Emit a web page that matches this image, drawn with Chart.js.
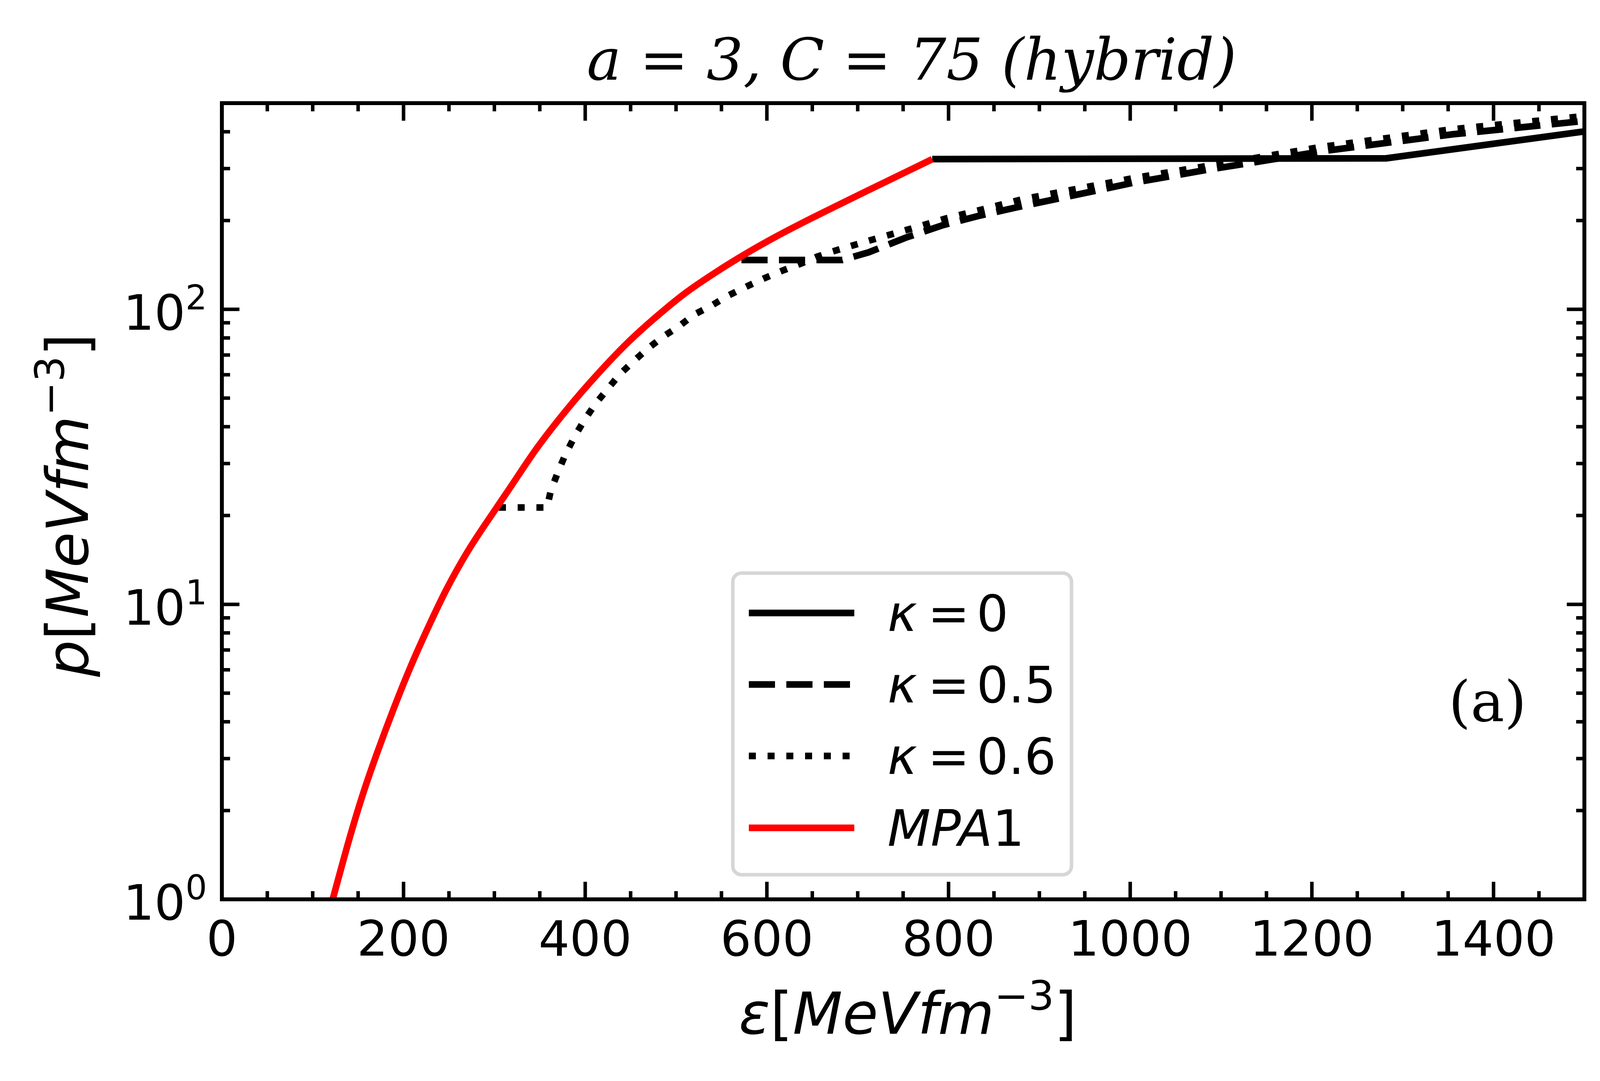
<!DOCTYPE html>
<html>
<head>
<meta charset="utf-8">
<script src="https://cdn.jsdelivr.net/npm/chart.js@4.4.0/dist/chart.umd.min.js"></script>
<style>
  html, body { margin: 0; padding: 0; background: #fff; }
</style>
</head>
<body>
<canvas id="eos" width="4146" height="2767" style="width:4146px;height:2767px"></canvas>
<script>
// energy density (MeV fm^-3) and pressure (MeV fm^-3)
const epsMPA1 = [122, 141, 156, 170, 190, 208, 228, 247, 270, 303, 314, 347, 380, 413, 446, 479, 511, 544, 577, 608, 634, 710, 782];
const pMPA1 = [1.0, 1.63, 2.31, 3.08, 4.50, 6.17, 8.47, 11.2, 15.0, 21.4, 24.0, 33.9, 45.8, 60.0, 76.7, 94.8, 114.0, 133.7, 154.5, 175.0, 192.8, 251.8, 322.8];

const epsK0 = [782, 1282, 1500];
const pK0 = [323, 325, 401];

const epsK05 = [572, 683, 712, 753, 794, 835, 876, 1002, 1087, 1128, 1213, 1355, 1500];
const pK05 = [147, 147, 156, 175, 193, 208, 222, 268, 298, 312, 344, 392, 435];

const epsK06 = [305, 358, 362, 370, 378, 388, 399, 411, 424, 438, 453, 469, 486, 503, 520, 539, 557, 576, 596, 617, 637, 655, 672, 714, 757, 799, 837, 881, 1005, 1095, 1210, 1355, 1500];
const pK06 = [21.3, 21.3, 24.2, 28.1, 32.1, 36.9, 42.1, 47.7, 53.4, 60.2, 66.6, 73.7, 80.9, 87.5, 96.0, 102.9, 111.2, 118.8, 127.0, 135.2, 142.7, 150.7, 157, 171.5, 187, 204, 218, 236, 279, 310, 355, 408, 452];

const xTickVals = [0, 200, 400, 600, 800, 1000, 1200, 1400];
const yTickExps = [0, 1, 2];
const legendKappa = ["0", "0.5", "0.6"];

const LW = 17;
const SANS = '"DejaVu Sans"';
const SERIF = '"DejaVu Serif"';

function pts(xs, ys) {
  return xs.map((x, i) => ({ x: x, y: ys[i] }));
}

// text with italic / superscript pieces, like matplotlib mathtext
function drawRich(ctx, parts, x, y, size) {
  const fontOf = p => (p.it ? "italic " : "") + Math.round(p.sup ? size * 0.7 : size) + "px " + SANS;
  let total = 0;
  parts.forEach(p => { ctx.font = fontOf(p); total += ctx.measureText(p.t).width; });
  let cx = x - total / 2;
  ctx.textAlign = "left";
  ctx.textBaseline = "alphabetic";
  parts.forEach(p => {
    ctx.font = fontOf(p);
    ctx.fillText(p.t, cx, p.sup ? y - size * 0.41 : y);
    cx += ctx.measureText(p.t).width;
  });
}

const framePlugin = {
  id: "frame",
  beforeDraw(chart) {
    const ctx = chart.ctx;
    ctx.save();
    ctx.fillStyle = "#fff";
    ctx.fillRect(0, 0, chart.width, chart.height);
    ctx.restore();
  },
  afterDatasetsDraw(chart) {
    const ctx = chart.ctx;
    const { left, right, top, bottom } = chart.chartArea;
    const xs = chart.scales.x, ys = chart.scales.y;
    ctx.save();
    ctx.strokeStyle = "#000";
    ctx.fillStyle = "#000";

    // inward ticks on all four sides
    ctx.lineWidth = 9;
    ctx.beginPath();
    for (let v = 0; v <= 1500; v += 50) {
      const px = xs.getPixelForValue(v);
      const len = v % 200 === 0 ? 45 : 21;
      ctx.moveTo(px, bottom); ctx.lineTo(px, bottom - len);
      ctx.moveTo(px, top); ctx.lineTo(px, top + len);
    }
    for (let e = 0; e <= 2; e++) {
      for (let m = 1; m <= 9; m++) {
        const v = m * Math.pow(10, e);
        if (v >= ys.max) break;
        const py = ys.getPixelForValue(v);
        const len = m === 1 ? 45 : 21;
        ctx.moveTo(left, py); ctx.lineTo(left + len, py);
        ctx.moveTo(right, py); ctx.lineTo(right - len, py);
      }
    }
    ctx.stroke();

    ctx.lineWidth = 10;
    ctx.strokeRect(left, top, right - left, bottom - top);

    // x tick labels
    ctx.font = "125px " + SANS;
    ctx.textAlign = "center";
    ctx.textBaseline = "alphabetic";
    xTickVals.forEach(v => ctx.fillText(String(v), xs.getPixelForValue(v), bottom + 144));

    // y tick labels 10^n
    yTickExps.forEach(e => {
      const py = ys.getPixelForValue(Math.pow(10, e));
      ctx.font = "125px " + SANS;
      const wb = ctx.measureText("10").width;
      ctx.font = "87px " + SANS;
      const we = ctx.measureText(String(e)).width;
      const xr = left - 38;
      ctx.textAlign = "left";
      ctx.font = "125px " + SANS;
      ctx.fillText("10", xr - we - wb, py + 52);
      ctx.font = "87px " + SANS;
      ctx.fillText(String(e), xr - we, py);
    });

    // axis titles
    const unit = [
      { t: "[" }, { t: "MeVfm", it: true }, { t: "\u22123", sup: true }, { t: "]" }
    ];
    drawRich(ctx, [{ t: "\u03b5", it: true }].concat(unit), (left + right) / 2 + 12, bottom + 344, 148);
    ctx.save();
    ctx.translate(225, (top + bottom) / 2 + 10);
    ctx.rotate(-Math.PI / 2);
    drawRich(ctx, [{ t: "p", it: true }].concat(unit), 0, 0, 148);
    ctx.restore();

    // title
    ctx.font = "italic 148px " + SERIF;
    ctx.textAlign = "center";
    ctx.fillText("a = 3, C = 75 (hybrid)", (left + right) / 2 + 22, top - 60);

    // panel tag
    ctx.font = "145px " + SERIF;
    ctx.fillText("(a)", 3808, 1846);

    // legend
    const bx = 1876, by = 1467, bw = 867, bh = 772;
    ctx.beginPath();
    ctx.roundRect(bx, by, bw, bh, 22);
    ctx.fillStyle = "rgba(255,255,255,0.8)";
    ctx.fill();
    ctx.lineWidth = 9;
    ctx.strokeStyle = "#d6d6d6";
    ctx.stroke();

    const order = [1, 2, 3, 0];
    const rowY = [1569, 1752, 1935, 2119];
    order.forEach((di, r) => {
      const ds = chart.data.datasets[di];
      const y = rowY[r];
      ctx.save();
      ctx.strokeStyle = ds.borderColor;
      ctx.lineWidth = ds.borderWidth;
      ctx.lineCap = "butt";
      ctx.setLineDash(ds.borderDash || []);
      ctx.beginPath();
      ctx.moveTo(1917, y);
      ctx.lineTo(2187, y);
      ctx.stroke();
      ctx.restore();

      ctx.fillStyle = "#000";
      ctx.textAlign = "left";
      ctx.textBaseline = "alphabetic";
      if (r < 3) {
        ctx.font = "italic 128px " + SANS;
        ctx.fillText("\u03ba", 2272, y + 46);
        ctx.font = "128px " + SANS;
        ctx.fillText("=", 2375, y + 46);
        ctx.fillText(legendKappa[r], 2500, y + 46);
      } else {
        ctx.font = "italic 128px " + SANS;
        ctx.fillText("MPA", 2272, y + 46);
        const w = ctx.measureText("MPA").width;
        ctx.font = "128px " + SANS;
        ctx.fillText("1", 2272 + w, y + 46);
      }
    });
    ctx.restore();
  }
};

new Chart(document.getElementById("eos"), {
  type: "line",
  data: {
    datasets: [
      {
        label: "MPA1",
        data: pts(epsMPA1, pMPA1),
        borderColor: "#ff0000",
        borderWidth: LW,
        cubicInterpolationMode: "monotone",
        order: 0
      },
      {
        label: "\u03ba = 0",
        data: pts(epsK0, pK0),
        borderColor: "#000",
        borderWidth: LW,
        order: 3
      },
      {
        label: "\u03ba = 0.5",
        data: pts(epsK05, pK05),
        borderColor: "#000",
        borderWidth: LW,
        borderDash: [67, 29],
        order: 2
      },
      {
        label: "\u03ba = 0.6",
        data: pts(epsK06, pK06),
        borderColor: "#000",
        borderWidth: LW,
        borderDash: [18, 30],
        order: 1
      }
    ]
  },
  options: {
    responsive: false,
    devicePixelRatio: 1,
    animation: false,
    clip: 0,
    layout: { padding: { left: 568, top: 264, right: 90, bottom: 465 } },
    elements: { point: { radius: 0 }, line: { tension: 0, borderCapStyle: "butt" } },
    scales: {
      x: { type: "linear", min: 0, max: 1500, display: false },
      y: { type: "logarithmic", min: 1, max: 500, display: false }
    },
    plugins: { legend: { display: false }, tooltip: { enabled: false } }
  },
  plugins: [framePlugin]
});
</script>
</body>
</html>
